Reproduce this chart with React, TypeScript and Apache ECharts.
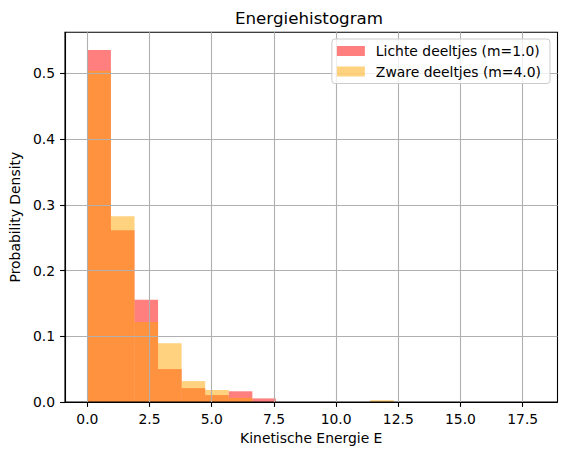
import React, { useEffect, useRef } from "react";
import * as echarts from "echarts";

const TITLE = "Energiehistogram";
const X_NAME = "Kinetische Energie E";
const Y_NAME = "Probability Density";
const SERIES_NAMES = ["Lichte deeltjes (m=1.0)", "Zware deeltjes (m=4.0)"];

// shared bin edges (19 bins from 0 to 18)
const binEdges = [
  0, 0.947, 1.895, 2.842, 3.789, 4.737, 5.684, 6.632, 7.579, 8.526, 9.474,
  10.421, 11.368, 12.316, 13.263, 14.211, 15.158, 16.105, 17.053, 18.0,
];

// density per bin
const lightDensity = [
  0.5357, 0.2613, 0.1557, 0.0501, 0.0211, 0.0106, 0.0163, 0.0055, 0, 0, 0, 0,
  0, 0, 0, 0, 0, 0, 0,
];
const heavyDensity = [
  0.504, 0.2826, 0.1216, 0.0895, 0.0318, 0.0183, 0.0064, 0, 0, 0, 0, 0, 0.0027,
  0, 0, 0, 0, 0, 0,
];

const xTicks = [0, 2.5, 5, 7.5, 10, 12.5, 15, 17.5];
const yTicks = [0, 0.1, 0.2, 0.3, 0.4, 0.5];

const FONT = "DejaVu Sans";

function toBins(dens: number[]) {
  return dens.map((d, i) => [binEdges[i], binEdges[i + 1], d]);
}

export default function App() {
  const ref = useRef<HTMLDivElement>(null);
  useEffect(() => {
    if (!ref.current) return;
    const chart = echarts.init(ref.current, null, { renderer: "svg" });
    const colors = ["rgba(255,0,0,0.5)", "rgba(255,165,0,0.5)"];
    const renderItem = (color: string) => (params: any, api: any) => {
      const x0 = api.value(0);
      const x1 = api.value(1);
      const h = api.value(2);
      if (!h) return null;
      const p0 = api.coord([x0, 0]);
      const p1 = api.coord([x1, h]);
      return {
        type: "rect",
        shape: { x: p0[0], y: p1[1], width: p1[0] - p0[0], height: p0[1] - p1[1] },
        style: { fill: color },
      };
    };
    chart.setOption({
      animation: false,
      textStyle: { fontFamily: FONT },
      title: {
        text: TITLE,
        left: 309,
        textAlign: "center",
        top: 9,
        padding: 0,
        textStyle: { fontFamily: FONT, fontSize: 16.7, fontWeight: "normal", color: "#000" },
      },
      legend: {
        orient: "vertical",
        right: 17,
        top: 39,
        padding: [5, 9, 5, 5],
        itemGap: 6.5,
        itemWidth: 28,
        itemHeight: 10,
        icon: "rect",
        backgroundColor: "rgba(255,255,255,0.8)",
        borderColor: "#cccccc",
        borderWidth: 1,
        borderRadius: 3,
        textStyle: { fontFamily: FONT, fontSize: 13.9, color: "#000", padding: [0, 0, 0, 6] },
        data: SERIES_NAMES,
      },
      grid: {
        left: 61,
        right: 9.5,
        top: 32.3,
        bottom: 53,
        show: true,
        borderColor: "#000",
        borderWidth: 1.1,
        backgroundColor: "transparent",
      },
      xAxis: {
        type: "value",
        min: -0.9,
        max: 18.9,
        name: X_NAME,
        nameLocation: "middle",
        nameGap: 28,
        nameTextStyle: { fontFamily: FONT, fontSize: 13.9, color: "#000" },
        axisLine: { show: true, onZero: false, lineStyle: { color: "#000", width: 1.1 } },
        axisTick: { show: true, length: 4.9, lineStyle: { color: "#000", width: 1.1 }, customValues: xTicks },
        axisLabel: {
          customValues: xTicks,
          fontFamily: FONT,
          fontSize: 13.9,
          color: "#000",
          margin: 10,
          formatter: (v: number) => v.toFixed(1),
        },
        splitLine: { show: true, lineStyle: { color: "#b0b0b0", width: 1.1 } },
      },
      yAxis: {
        type: "value",
        min: 0,
        max: 0.5625,
        name: Y_NAME,
        nameLocation: "middle",
        nameGap: 38,
        nameTextStyle: { fontFamily: FONT, fontSize: 13.9, color: "#000" },
        axisLine: { show: true, onZero: false, lineStyle: { color: "#000", width: 1.1 } },
        axisTick: { show: true, length: 4.9, lineStyle: { color: "#000", width: 1.1 }, customValues: yTicks },
        axisLabel: {
          customValues: yTicks,
          fontFamily: FONT,
          fontSize: 13.9,
          color: "#000",
          margin: 10,
          formatter: (v: number) => v.toFixed(1),
        },
        splitLine: { show: true, lineStyle: { color: "#b0b0b0", width: 1.1 } },
      },
      series: [
        {
          name: SERIES_NAMES[0],
          type: "custom",
          z: -2,
          itemStyle: { color: colors[0] },
          encode: { x: [0, 1], y: 2 },
          renderItem: renderItem(colors[0]),
          data: toBins(lightDensity),
        },
        {
          name: SERIES_NAMES[1],
          type: "custom",
          z: -1,
          itemStyle: { color: colors[1] },
          encode: { x: [0, 1], y: 2 },
          renderItem: renderItem(colors[1]),
          data: toBins(heavyDensity),
        },
      ],
    });
    return () => chart.dispose();
  }, []);
  return (
    <div
      ref={ref}
      style={{ position: "fixed", left: 0, top: 0, width: 567, height: 455, background: "#fff" }}
    />
  );
}
